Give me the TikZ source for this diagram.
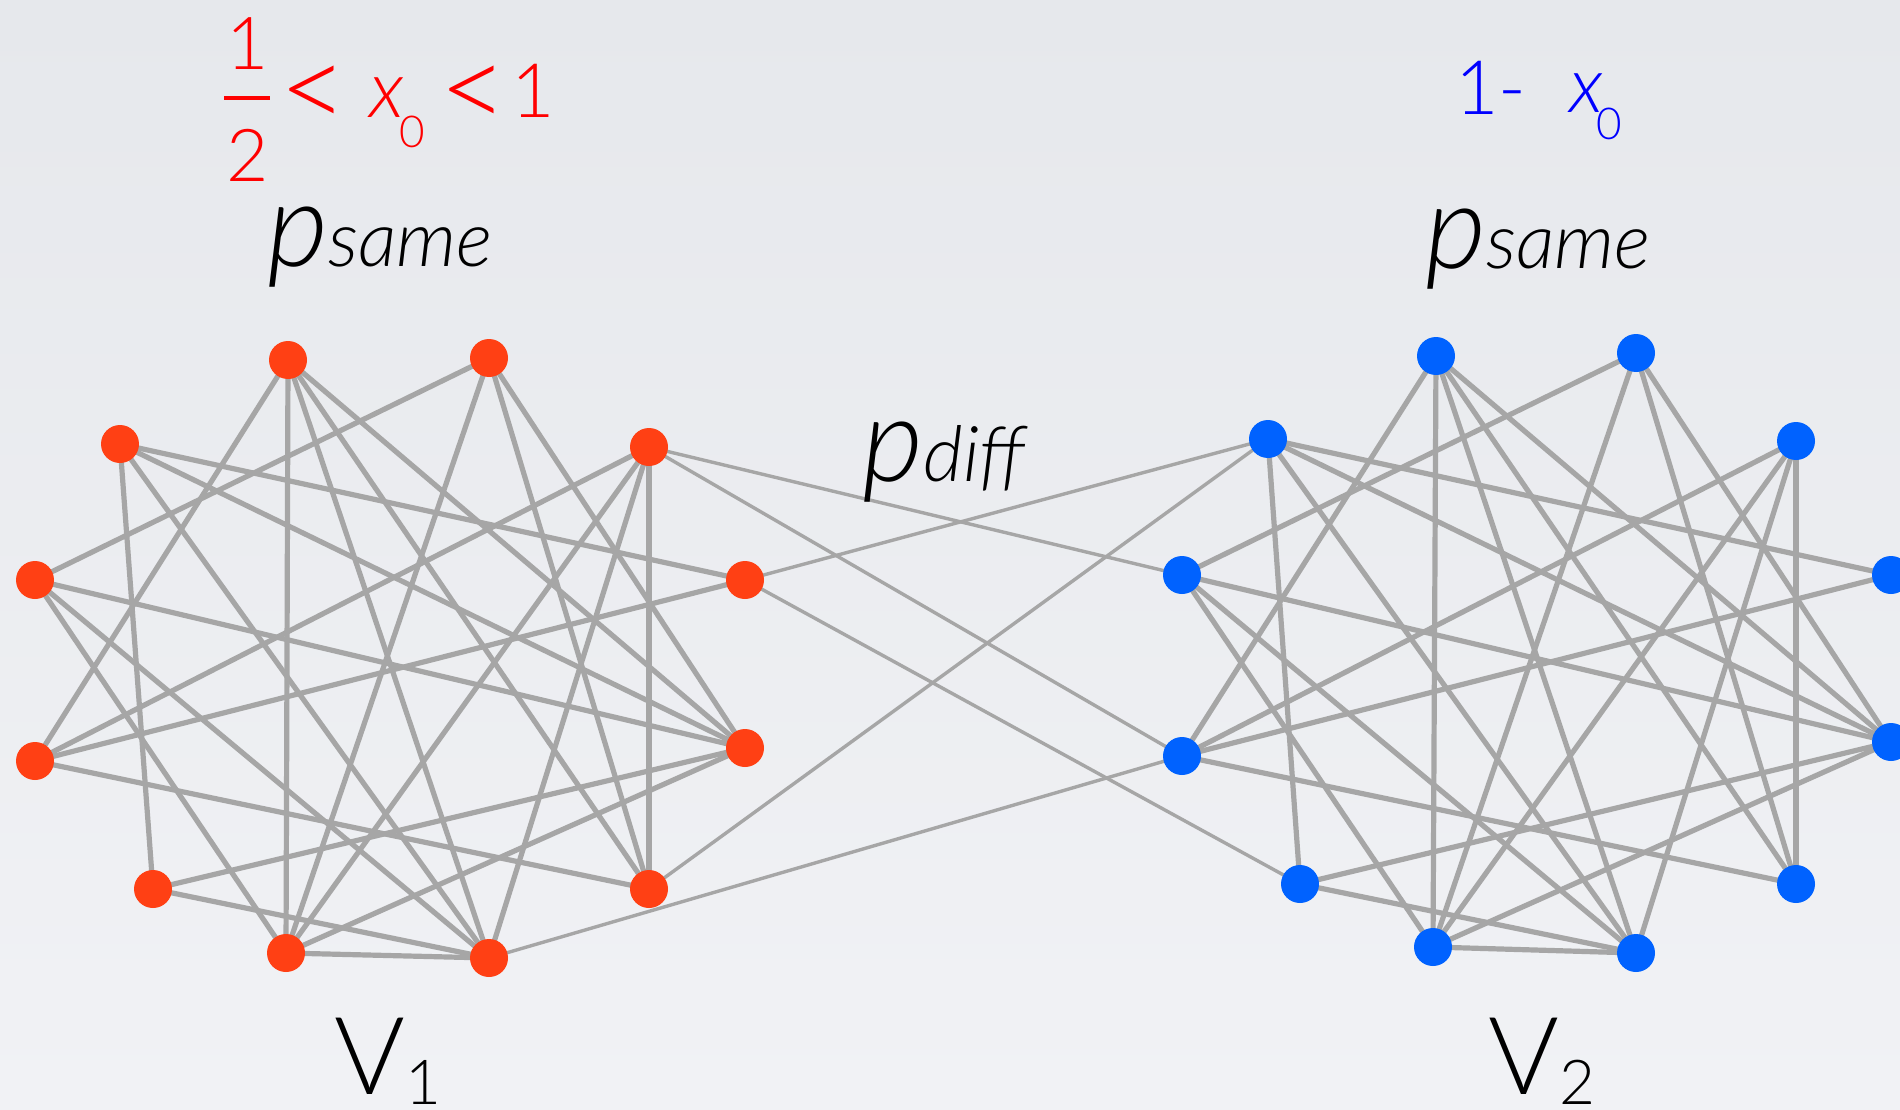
\documentclass[tikz,border=0pt]{standalone}
\usepackage{fontspec}
\setmainfont{Lato Light}[ItalicFont={Lato Light Italic}]
\definecolor{bgtop}{RGB}{230,232,236}
\definecolor{bgbot}{RGB}{241,242,245}
\definecolor{nred}{RGB}{255,64,20}
\definecolor{nblue}{RGB}{0,98,255}
\definecolor{egray}{RGB}{166,166,166}
\definecolor{tred}{RGB}{255,0,0}
\definecolor{tblue}{RGB}{0,0,255}
\pgfdeclarelayer{bg}
\pgfdeclarelayer{edges}
\pgfsetlayers{bg,edges,main}
\begin{document}
\begin{tikzpicture}[x=1pt,y=-1pt,
  vred/.style={circle,fill=nred,minimum size=38pt,inner sep=0pt},
  vblue/.style={circle,fill=nblue,minimum size=38pt,inner sep=0pt},
  intra/.style={draw=egray,line width=5.2pt},
  inter/.style={draw=egray,line width=3.4pt},
  lbl/.style={inner sep=0pt,outer sep=0pt,anchor=base},
]
\useasboundingbox (0,0) rectangle (1900,1110);
\clip (0,0) rectangle (1900,1110);
\begin{pgfonlayer}{bg}
\shade[top color=bgtop,bottom color=bgbot] (0,0) rectangle (1900,1110);
\end{pgfonlayer}

% left group
\node[vred] (A) at (288,360) {};
\node[vred] (B) at (489,358) {};
\node[vred] (C) at (120,444) {};
\node[vred] (D) at (649,447) {};
\node[vred] (E) at (35,580) {};
\node[vred] (F) at (745,580) {};
\node[vred] (G) at (35,761) {};
\node[vred] (H) at (745,748) {};
\node[vred] (I) at (153,889) {};
\node[vred] (J) at (649,889) {};
\node[vred] (K) at (286,953) {};
\node[vred] (L) at (489,958) {};
% right group
\node[vblue] (rA) at (1436,356) {};
\node[vblue] (rB) at (1636,353) {};
\node[vblue] (rC) at (1268,439) {};
\node[vblue] (rD) at (1796,441) {};
\node[vblue] (rE) at (1182,575) {};
\node[vblue] (rF) at (1891,575) {};
\node[vblue] (rG) at (1182,756) {};
\node[vblue] (rH) at (1891,742) {};
\node[vblue] (rI) at (1300,884) {};
\node[vblue] (rJ) at (1796,884) {};
\node[vblue] (rK) at (1433,947) {};
\node[vblue] (rL) at (1636,953) {};

\begin{pgfonlayer}{edges}
\foreach \u/\v in {A/G,A/K,A/L,A/J,A/H,B/E,B/K,B/J,B/H,C/F,C/H,C/I,C/L,D/G,D/K,D/L,D/J,E/H,E/L,E/K,F/G,G/J,H/I,H/K,I/L,K/L}{
  \draw[intra] (\u.center) -- (\v.center);
  \draw[intra] (r\u.center) -- (r\v.center);
}
\foreach \u/\v in {D/rE,D/rG,F/rC,F/rI,J/rC,L/rG}{
  \draw[inter] (\u.center) -- (\v.center);
}
\end{pgfonlayer}

% labels
\node[lbl] (psameL) at (380,266) {\fontsize{118}{118}\selectfont\itshape p\fontsize{77}{77}\selectfont same};
\node[lbl] (psameR) at (1538,268) {\fontsize{118}{118}\selectfont\itshape p\fontsize{77}{77}\selectfont same};
\node[lbl] (pdiff) at (944,481) {\fontsize{118}{118}\selectfont\itshape p\fontsize{77}{77}\selectfont diff};
\node[lbl] (V1) at (388,1094) {\fontsize{108}{108}\selectfont V\raisebox{-10pt}{\fontsize{62}{62}\selectfont 1}};
\node[lbl] (V2) at (1542,1094) {\fontsize{108}{108}\selectfont V\raisebox{-10pt}{\fontsize{62}{62}\selectfont 2}};

% red condition
\begin{scope}[tred]
\node[lbl] (fn) at (248,70) {\fontsize{73}{73}\selectfont 1};
\node[lbl] (fd) at (248,182) {\fontsize{73}{73}\selectfont 2};
\draw[line width=3.6pt] (fn.base -| 224,0) ++(0,28) coordinate (bar1) -- ++(46,0) coordinate (bar2);
\node[inner sep=0pt] (lt1) at (314,98) {\fontsize{118}{118}\selectfont <};
\node[lbl] (x0) at (387,118) {\fontsize{80}{80}\selectfont\itshape x};
\node[lbl] (s0) at (412,148) {\fontsize{44}{44}\selectfont 0};
\node[inner sep=0pt] (lt2) at (474,98) {\fontsize{118}{118}\selectfont <};
\node[lbl] (one) at (533,118) {\fontsize{75}{75}\selectfont 1};
\end{scope}

% blue
\begin{scope}[tblue]
\node[lbl,anchor=base west] (onem) at (1455,115) {\fontsize{75}{75}\selectfont 1-};
\node[lbl] (xb) at (1586,113) {\fontsize{78}{78}\selectfont\itshape x};
\node[lbl] (sb) at (1609,140) {\fontsize{44}{44}\selectfont 0};
\end{scope}
\end{tikzpicture}
\end{document}
